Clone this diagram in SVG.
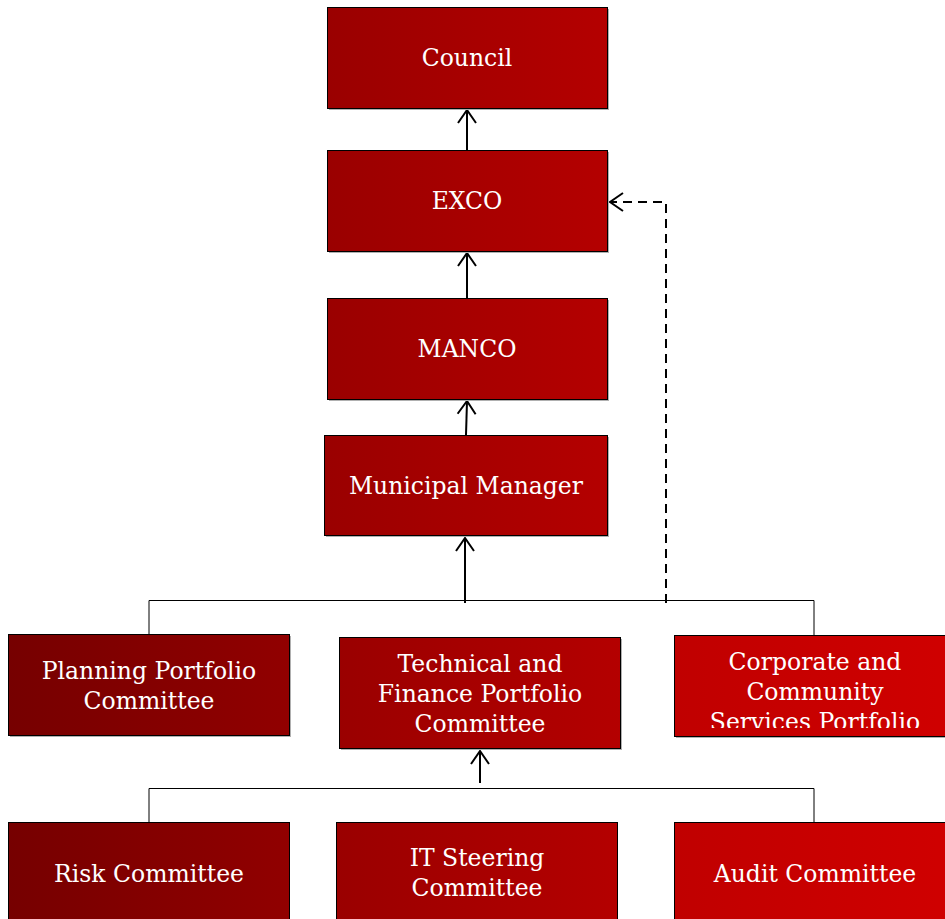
<svg xmlns="http://www.w3.org/2000/svg" width="945" height="919" viewBox="0 0 945 919">
<defs>
<linearGradient id="gL" x1="0" y1="0" x2="1" y2="0"><stop offset="0" stop-color="#760000"/><stop offset="1" stop-color="#910000"/></linearGradient>
<linearGradient id="gM" x1="0" y1="0" x2="1" y2="0"><stop offset="0" stop-color="#9a0000"/><stop offset="1" stop-color="#b40000"/></linearGradient>
<linearGradient id="gR" x1="0" y1="0" x2="1" y2="0"><stop offset="0" stop-color="#c00000"/><stop offset="1" stop-color="#d00000"/></linearGradient>
<marker id="arr" markerUnits="userSpaceOnUse" markerWidth="30" markerHeight="30" refX="0" refY="0" viewBox="-15 -15 30 30" orient="auto" overflow="visible">
<path d="M -13 -9 L 0 0 L -13 9" fill="none" stroke="#000" stroke-width="2"/>
</marker>
<clipPath id="clipCorp"><rect x="674" y="635" width="280" height="93"/></clipPath>
</defs>
<style>
.box{stroke:#000;stroke-width:1}
.sh{fill:#b0b0b0}
.t{font-family:"DejaVu Serif","Liberation Serif",serif;font-size:23.5px;fill:#fff;text-anchor:middle}
.bus{fill:none;stroke:#000;stroke-width:1}
.arrow{fill:none;stroke:#000;stroke-width:2;marker-end:url(#arr)}
.dash{fill:none;stroke:#000;stroke-width:2;stroke-dasharray:9 6;marker-end:url(#arr)}
</style>
<g id="connectors">
<line class="arrow" x1="467" y1="150" x2="467" y2="110"/>
<line class="arrow" x1="467" y1="298" x2="467" y2="253"/>
<line class="arrow" x1="466" y1="435" x2="467" y2="401"/>
<line class="arrow" x1="465" y1="603" x2="465" y2="538"/>
<polyline class="bus" points="149,634 149,600.5 814,600.5 814,635"/>
<polyline class="dash" points="666,603 666,202 610,202"/>
<polyline class="bus" points="149,822 149,788.5 814,788.5 814,822"/>
<line class="arrow" x1="480" y1="783" x2="480" y2="751"/>
</g>
<g id="council"><rect class="sh" x="329" y="9" width="280" height="101"/><rect class="box" x="327.5" y="7.5" width="280" height="101" fill="url(#gM)"/><text class="t" x="467" y="66">Council</text></g>
<g id="exco"><rect class="sh" x="329" y="152" width="280" height="101"/><rect class="box" x="327.5" y="150.5" width="280" height="101" fill="url(#gM)"/><text class="t" x="467" y="209">EXCO</text></g>
<g id="manco"><rect class="sh" x="329" y="300" width="280" height="101"/><rect class="box" x="327.5" y="298.5" width="280" height="101" fill="url(#gM)"/><text class="t" x="467" y="357">MANCO</text></g>
<g id="municipal-manager"><rect class="sh" x="326" y="437" width="283" height="100"/><rect class="box" x="324.5" y="435.5" width="283" height="100" fill="url(#gM)"/><text class="t" x="466" y="494">Municipal Manager</text></g>
<g id="planning"><rect class="sh" x="10" y="636" width="281" height="101"/><rect class="box" x="8.5" y="634.5" width="281" height="101" fill="url(#gL)"/><text class="t" x="149" y="679">Planning Portfolio</text><text class="t" x="149" y="709">Committee</text></g>
<g id="technical"><rect class="sh" x="341" y="639" width="281" height="111"/><rect class="box" x="339.5" y="637.5" width="281" height="111" fill="url(#gM)"/><text class="t" x="480" y="672">Technical and</text><text class="t" x="480" y="702">Finance Portfolio</text><text class="t" x="480" y="732">Committee</text></g>
<g id="corporate"><rect class="sh" x="676" y="637" width="281" height="101"/><rect class="box" x="674.5" y="635.5" width="281" height="101" fill="url(#gR)"/><g clip-path="url(#clipCorp)"><text class="t" x="815" y="670">Corporate and</text><text class="t" x="815" y="700">Community</text><text class="t" x="815" y="730">Services Portfolio</text></g></g>
<g id="risk"><rect class="box" x="8.5" y="822.5" width="281" height="110" fill="url(#gL)"/><text class="t" x="149" y="882">Risk Committee</text></g>
<g id="it-steering"><rect class="box" x="336.5" y="822.5" width="281" height="110" fill="url(#gM)"/><text class="t" x="477" y="866">IT Steering</text><text class="t" x="477" y="896">Committee</text></g>
<g id="audit"><rect class="box" x="674.5" y="822.5" width="281" height="110" fill="url(#gR)"/><text class="t" x="815" y="882">Audit Committee</text></g>
</svg>
